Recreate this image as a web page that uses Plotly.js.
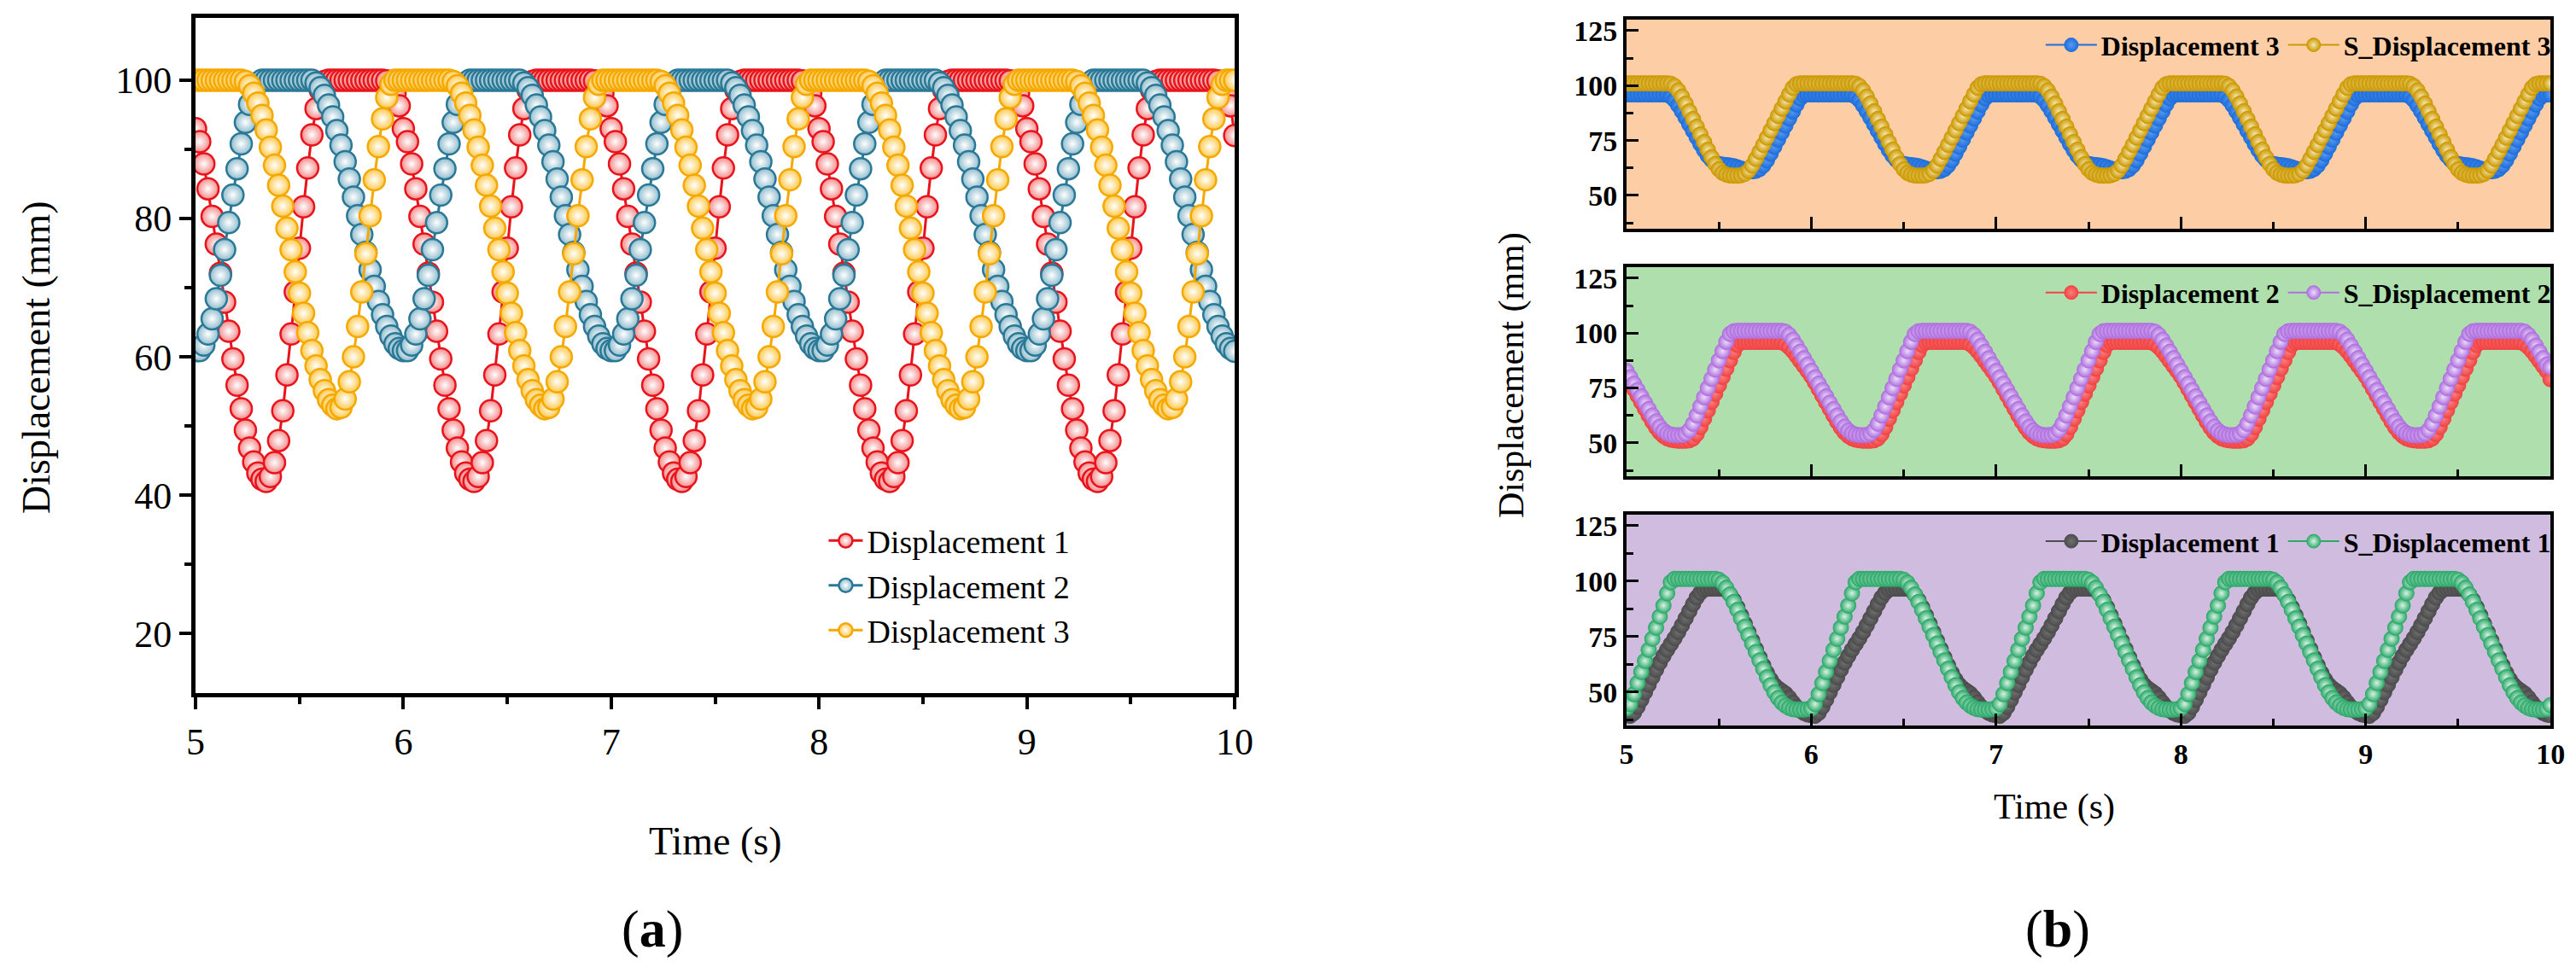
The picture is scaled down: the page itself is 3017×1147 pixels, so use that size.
<!DOCTYPE html>
<html>
<head>
<meta charset="utf-8">
<script src="https://cdn.plot.ly/plotly-3.0.1.min.js"></script>
<style>html,body{margin:0;padding:0;background:#fff}#chart{width:3017px;height:1147px}</style>
</head>
<body>
<div id="chart"></div>
<script>
// sampling grid, 5 s .. 10 s every 0.02 s
const time = [];
for (let i = 0; i <= 250; i++) time.push(+(5 + i * 0.02).toFixed(2));

// panel (a) values
const disp1 = [
93.0,91.1,87.9,84.3,80.3,76.3,72.1,67.9,63.7,59.7,55.9,52.5,49.4,46.8,44.8,43.2,42.3,42.0,42.7,44.7,47.9,52.2,57.4,63.3,69.4,75.7,81.7,87.3,92.1,95.9,98.6,99.8,100,100,100,100,100,100,100,100,100,100,100,100,100,100,99.9,99.3,98.1,96.3,
93.0,91.1,87.9,84.3,80.3,76.3,72.1,67.9,63.7,59.7,55.9,52.5,49.4,46.8,44.8,43.2,42.3,42.0,42.7,44.7,47.9,52.2,57.4,63.3,69.4,75.7,81.7,87.3,92.1,95.9,98.6,99.8,100,100,100,100,100,100,100,100,100,100,100,100,100,100,99.9,99.3,98.1,96.3,
93.0,91.1,87.9,84.3,80.3,76.3,72.1,67.9,63.7,59.7,55.9,52.5,49.4,46.8,44.8,43.2,42.3,42.0,42.7,44.7,47.9,52.2,57.4,63.3,69.4,75.7,81.7,87.3,92.1,95.9,98.6,99.8,100,100,100,100,100,100,100,100,100,100,100,100,100,100,99.9,99.3,98.1,96.3,
93.0,91.1,87.9,84.3,80.3,76.3,72.1,67.9,63.7,59.7,55.9,52.5,49.4,46.8,44.8,43.2,42.3,42.0,42.7,44.7,47.9,52.2,57.4,63.3,69.4,75.7,81.7,87.3,92.1,95.9,98.6,99.8,100,100,100,100,100,100,100,100,100,100,100,100,100,100,99.9,99.3,98.1,96.3,
93.0,91.1,87.9,84.3,80.3,76.3,72.1,67.9,63.7,59.7,55.9,52.5,49.4,46.8,44.8,43.2,42.3,42.0,42.7,44.7,47.9,52.2,57.4,63.3,69.4,75.7,81.7,87.3,92.1,95.9,98.6,99.8,100,100,100,100,100,100,100,100,100,100,100,100,100,100,99.9,99.3,98.1,96.3,
92.0];
const disp2 = [
60.9,60.9,61.7,63.3,65.5,68.4,71.8,75.5,79.4,83.4,87.2,90.8,93.9,96.5,98.4,99.6,100,100,100,100,100,100,100,100,100,100,100,100,100.0,99.6,98.9,97.8,96.4,94.7,92.7,90.6,88.2,85.7,83.1,80.4,77.7,75.1,72.6,70.2,68.0,66.1,64.4,63.0,61.9,61.2,
60.9,60.9,61.7,63.3,65.5,68.4,71.8,75.5,79.4,83.4,87.2,90.8,93.9,96.5,98.4,99.6,100,100,100,100,100,100,100,100,100,100,100,100,100.0,99.6,98.9,97.8,96.4,94.7,92.7,90.6,88.2,85.7,83.1,80.4,77.7,75.1,72.6,70.2,68.0,66.1,64.4,63.0,61.9,61.2,
60.9,60.9,61.7,63.3,65.5,68.4,71.8,75.5,79.4,83.4,87.2,90.8,93.9,96.5,98.4,99.6,100,100,100,100,100,100,100,100,100,100,100,100,100.0,99.6,98.9,97.8,96.4,94.7,92.7,90.6,88.2,85.7,83.1,80.4,77.7,75.1,72.6,70.2,68.0,66.1,64.4,63.0,61.9,61.2,
60.9,60.9,61.7,63.3,65.5,68.4,71.8,75.5,79.4,83.4,87.2,90.8,93.9,96.5,98.4,99.6,100,100,100,100,100,100,100,100,100,100,100,100,100.0,99.6,98.9,97.8,96.4,94.7,92.7,90.6,88.2,85.7,83.1,80.4,77.7,75.1,72.6,70.2,68.0,66.1,64.4,63.0,61.9,61.2,
60.9,60.9,61.7,63.3,65.5,68.4,71.8,75.5,79.4,83.4,87.2,90.8,93.9,96.5,98.4,99.6,100,100,100,100,100,100,100,100,100,100,100,100,100.0,99.6,98.9,97.8,96.4,94.7,92.7,90.6,88.2,85.7,83.1,80.4,77.7,75.1,72.6,70.2,68.0,66.1,64.4,63.0,61.9,61.2,
60.8];
const disp3 = [
100,100,100,100,100,100,100,100,100,100,100,100,99.8,99.2,98.1,96.7,94.9,92.8,90.3,87.7,84.8,81.8,78.6,75.5,72.3,69.2,66.3,63.5,60.9,58.7,56.7,55.1,53.8,53.0,52.5,52.7,53.9,56.4,60.0,64.4,69.4,74.9,80.4,85.6,90.4,94.4,97.5,99.4,100,100,
100,100,100,100,100,100,100,100,100,100,100,100,99.8,99.2,98.1,96.7,94.9,92.8,90.3,87.7,84.8,81.8,78.6,75.5,72.3,69.2,66.3,63.5,60.9,58.7,56.7,55.1,53.8,53.0,52.5,52.7,53.9,56.4,60.0,64.4,69.4,74.9,80.4,85.6,90.4,94.4,97.5,99.4,100,100,
100,100,100,100,100,100,100,100,100,100,100,100,99.8,99.2,98.1,96.7,94.9,92.8,90.3,87.7,84.8,81.8,78.6,75.5,72.3,69.2,66.3,63.5,60.9,58.7,56.7,55.1,53.8,53.0,52.5,52.7,53.9,56.4,60.0,64.4,69.4,74.9,80.4,85.6,90.4,94.4,97.5,99.4,100,100,
100,100,100,100,100,100,100,100,100,100,100,100,99.8,99.2,98.1,96.7,94.9,92.8,90.3,87.7,84.8,81.8,78.6,75.5,72.3,69.2,66.3,63.5,60.9,58.7,56.7,55.1,53.8,53.0,52.5,52.7,53.9,56.4,60.0,64.4,69.4,74.9,80.4,85.6,90.4,94.4,97.5,99.4,100,100,
100,100,100,100,100,100,100,100,100,100,100,100,99.8,99.2,98.1,96.7,94.9,92.8,90.3,87.7,84.8,81.8,78.6,75.5,72.3,69.2,66.3,63.5,60.9,58.7,56.7,55.1,53.8,53.0,52.5,52.7,53.9,56.4,60.0,64.4,69.4,74.9,80.4,85.6,90.4,94.4,97.5,99.4,100,100,
100];

// panel (b) values
const bDisp3 = [
96,96,96,96,96,96,96,96,96,96,96,95.8,95,93.4,91,88.3,85.4,82.4,79.4,76.4,73.4,70.6,68.1,66.2,65.0,64.3,64.0,63.8,63.6,63.3,62.8,62.2,61.6,61.2,61.0,61.2,62.0,63.6,66.0,69.0,72.2,75.4,78.6,81.8,85.0,88.2,91.4,94.2,95.6,96,
96,96,96,96,96,96,96,96,96,96,96,95.8,95,93.4,91,88.3,85.4,82.4,79.4,76.4,73.4,70.6,68.1,66.2,65.0,64.3,64.0,63.8,63.6,63.3,62.8,62.2,61.6,61.2,61.0,61.2,62.0,63.6,66.0,69.0,72.2,75.4,78.6,81.8,85.0,88.2,91.4,94.2,95.6,96,
96,96,96,96,96,96,96,96,96,96,96,95.8,95,93.4,91,88.3,85.4,82.4,79.4,76.4,73.4,70.6,68.1,66.2,65.0,64.3,64.0,63.8,63.6,63.3,62.8,62.2,61.6,61.2,61.0,61.2,62.0,63.6,66.0,69.0,72.2,75.4,78.6,81.8,85.0,88.2,91.4,94.2,95.6,96,
96,96,96,96,96,96,96,96,96,96,96,95.8,95,93.4,91,88.3,85.4,82.4,79.4,76.4,73.4,70.6,68.1,66.2,65.0,64.3,64.0,63.8,63.6,63.3,62.8,62.2,61.6,61.2,61.0,61.2,62.0,63.6,66.0,69.0,72.2,75.4,78.6,81.8,85.0,88.2,91.4,94.2,95.6,96,
96,96,96,96,96,96,96,96,96,96,96,95.8,95,93.4,91,88.3,85.4,82.4,79.4,76.4,73.4,70.6,68.1,66.2,65.0,64.3,64.0,63.8,63.6,63.3,62.8,62.2,61.6,61.2,61.0,61.2,62.0,63.6,66.0,69.0,72.2,75.4,78.6,81.8,85.0,88.2,91.4,94.2,95.6,96,
96];
const sDisp3 = [
101,101,101,101,101,101,101,101,101,101,101,101,100.8,99.8,97.8,95.0,91.8,88.3,84.8,81.3,77.8,74.3,70.8,67.4,64.3,61.9,60.3,59.5,59.1,59,59,59.2,59.8,61.2,63.6,66.6,69.8,73.0,76.3,79.6,82.9,86.2,89.5,92.8,96.0,99.0,100.6,101,101,101,
101,101,101,101,101,101,101,101,101,101,101,101,100.8,99.8,97.8,95.0,91.8,88.3,84.8,81.3,77.8,74.3,70.8,67.4,64.3,61.9,60.3,59.5,59.1,59,59,59.2,59.8,61.2,63.6,66.6,69.8,73.0,76.3,79.6,82.9,86.2,89.5,92.8,96.0,99.0,100.6,101,101,101,
101,101,101,101,101,101,101,101,101,101,101,101,100.8,99.8,97.8,95.0,91.8,88.3,84.8,81.3,77.8,74.3,70.8,67.4,64.3,61.9,60.3,59.5,59.1,59,59,59.2,59.8,61.2,63.6,66.6,69.8,73.0,76.3,79.6,82.9,86.2,89.5,92.8,96.0,99.0,100.6,101,101,101,
101,101,101,101,101,101,101,101,101,101,101,101,100.8,99.8,97.8,95.0,91.8,88.3,84.8,81.3,77.8,74.3,70.8,67.4,64.3,61.9,60.3,59.5,59.1,59,59,59.2,59.8,61.2,63.6,66.6,69.8,73.0,76.3,79.6,82.9,86.2,89.5,92.8,96.0,99.0,100.6,101,101,101,
101,101,101,101,101,101,101,101,101,101,101,101,100.8,99.8,97.8,95.0,91.8,88.3,84.8,81.3,77.8,74.3,70.8,67.4,64.3,61.9,60.3,59.5,59.1,59,59,59.2,59.8,61.2,63.6,66.6,69.8,73.0,76.3,79.6,82.9,86.2,89.5,92.8,96.0,99.0,100.6,101,101,101,
101];
const bDisp2 = [
80.3,77.5,74.5,71.5,68.5,65.5,62.5,59.6,57.0,54.8,53.2,52.1,51.5,51.2,51,51,51,51.2,52.0,54.0,57.2,61.0,64.8,68.6,72.4,76.2,80.0,83.8,87.6,91.4,94.6,95.8,96,96,96,96,96,96,96,96,96,96,95.8,95.0,93.6,91.8,89.6,87.3,85.0,82.7,
80.3,77.5,74.5,71.5,68.5,65.5,62.5,59.6,57.0,54.8,53.2,52.1,51.5,51.2,51,51,51,51.2,52.0,54.0,57.2,61.0,64.8,68.6,72.4,76.2,80.0,83.8,87.6,91.4,94.6,95.8,96,96,96,96,96,96,96,96,96,96,95.8,95.0,93.6,91.8,89.6,87.3,85.0,82.7,
80.3,77.5,74.5,71.5,68.5,65.5,62.5,59.6,57.0,54.8,53.2,52.1,51.5,51.2,51,51,51,51.2,52.0,54.0,57.2,61.0,64.8,68.6,72.4,76.2,80.0,83.8,87.6,91.4,94.6,95.8,96,96,96,96,96,96,96,96,96,96,95.8,95.0,93.6,91.8,89.6,87.3,85.0,82.7,
80.3,77.5,74.5,71.5,68.5,65.5,62.5,59.6,57.0,54.8,53.2,52.1,51.5,51.2,51,51,51,51.2,52.0,54.0,57.2,61.0,64.8,68.6,72.4,76.2,80.0,83.8,87.6,91.4,94.6,95.8,96,96,96,96,96,96,96,96,96,96,95.8,95.0,93.6,91.8,89.6,87.3,85.0,82.7,
80.3,77.5,74.5,71.5,68.5,65.5,62.5,59.6,57.0,54.8,53.2,52.1,51.5,51.2,51,51,51,51.2,52.0,54.0,57.2,61.0,64.8,68.6,72.4,76.2,80.0,83.8,87.6,91.4,94.6,95.8,96,96,96,96,96,96,96,96,96,96,95.8,95.0,93.6,91.8,89.6,87.3,85.0,82.7,
79.0];
const sDisp2 = [
82.8,79.9,77.0,74.1,71.2,68.3,65.4,62.5,59.8,57.4,55.6,54.4,53.8,53.5,53.5,53.6,54.2,55.8,58.7,62.5,66.6,70.8,75.0,79.2,83.4,87.6,91.8,96.0,99.6,100.8,101,101,101,101,101,101,101,101,101,101,101,101,101,100.6,99.2,97.0,94.3,91.5,88.6,85.7,
82.8,79.9,77.0,74.1,71.2,68.3,65.4,62.5,59.8,57.4,55.6,54.4,53.8,53.5,53.5,53.6,54.2,55.8,58.7,62.5,66.6,70.8,75.0,79.2,83.4,87.6,91.8,96.0,99.6,100.8,101,101,101,101,101,101,101,101,101,101,101,101,101,100.6,99.2,97.0,94.3,91.5,88.6,85.7,
82.8,79.9,77.0,74.1,71.2,68.3,65.4,62.5,59.8,57.4,55.6,54.4,53.8,53.5,53.5,53.6,54.2,55.8,58.7,62.5,66.6,70.8,75.0,79.2,83.4,87.6,91.8,96.0,99.6,100.8,101,101,101,101,101,101,101,101,101,101,101,101,101,100.6,99.2,97.0,94.3,91.5,88.6,85.7,
82.8,79.9,77.0,74.1,71.2,68.3,65.4,62.5,59.8,57.4,55.6,54.4,53.8,53.5,53.5,53.6,54.2,55.8,58.7,62.5,66.6,70.8,75.0,79.2,83.4,87.6,91.8,96.0,99.6,100.8,101,101,101,101,101,101,101,101,101,101,101,101,101,100.6,99.2,97.0,94.3,91.5,88.6,85.7,
82.8,79.9,77.0,74.1,71.2,68.3,65.4,62.5,59.8,57.4,55.6,54.4,53.8,53.5,53.5,53.6,54.2,55.8,58.7,62.5,66.6,70.8,75.0,79.2,83.4,87.6,91.8,96.0,99.6,100.8,101,101,101,101,101,101,101,101,101,101,101,101,101,100.6,99.2,97.0,94.3,91.5,88.6,85.7,
84.5];
const bDisp1 = [
39.5,39.2,40.5,43.2,46.4,49.8,53.2,56.6,60.0,63.2,66.2,69.0,71.6,74.2,77.0,80.0,83.2,86.4,89.6,92.6,94.8,96.2,96.6,96.6,96.6,96.6,96.6,95.8,94,91.4,88.2,84.6,80.8,77,73.2,69.4,65.6,62,58.6,55.6,53.2,51.6,50.4,49.2,47.4,45.2,43.2,41.6,40.5,39.8,
39.5,39.2,40.5,43.2,46.4,49.8,53.2,56.6,60.0,63.2,66.2,69.0,71.6,74.2,77.0,80.0,83.2,86.4,89.6,92.6,94.8,96.2,96.6,96.6,96.6,96.6,96.6,95.8,94,91.4,88.2,84.6,80.8,77,73.2,69.4,65.6,62,58.6,55.6,53.2,51.6,50.4,49.2,47.4,45.2,43.2,41.6,40.5,39.8,
39.5,39.2,40.5,43.2,46.4,49.8,53.2,56.6,60.0,63.2,66.2,69.0,71.6,74.2,77.0,80.0,83.2,86.4,89.6,92.6,94.8,96.2,96.6,96.6,96.6,96.6,96.6,95.8,94,91.4,88.2,84.6,80.8,77,73.2,69.4,65.6,62,58.6,55.6,53.2,51.6,50.4,49.2,47.4,45.2,43.2,41.6,40.5,39.8,
39.5,39.2,40.5,43.2,46.4,49.8,53.2,56.6,60.0,63.2,66.2,69.0,71.6,74.2,77.0,80.0,83.2,86.4,89.6,92.6,94.8,96.2,96.6,96.6,96.6,96.6,96.6,95.8,94,91.4,88.2,84.6,80.8,77,73.2,69.4,65.6,62,58.6,55.6,53.2,51.6,50.4,49.2,47.4,45.2,43.2,41.6,40.5,39.8,
39.5,39.2,40.5,43.2,46.4,49.8,53.2,56.6,60.0,63.2,66.2,69.0,71.6,74.2,77.0,80.0,83.2,86.4,89.6,92.6,94.8,96.2,96.6,96.6,96.6,96.6,96.6,95.8,94,91.4,88.2,84.6,80.8,77,73.2,69.4,65.6,62,58.6,55.6,53.2,51.6,50.4,49.2,47.4,45.2,43.2,41.6,40.5,39.8,
39.5];
const sDisp1 = [
42.5,44.5,49,54,59,64,69,74,79,84,89,94.5,99.5,101,101,101,101,101,101,101,101,101,101,101,101,100.6,99.3,97,94,90.6,87,83.2,79.4,75.6,71.8,68,64.2,60.4,56.6,53,49.8,47.2,45.2,43.8,42.8,42.2,42,42,42,42.2,
42.5,44.5,49,54,59,64,69,74,79,84,89,94.5,99.5,101,101,101,101,101,101,101,101,101,101,101,101,100.6,99.3,97,94,90.6,87,83.2,79.4,75.6,71.8,68,64.2,60.4,56.6,53,49.8,47.2,45.2,43.8,42.8,42.2,42,42,42,42.2,
42.5,44.5,49,54,59,64,69,74,79,84,89,94.5,99.5,101,101,101,101,101,101,101,101,101,101,101,101,100.6,99.3,97,94,90.6,87,83.2,79.4,75.6,71.8,68,64.2,60.4,56.6,53,49.8,47.2,45.2,43.8,42.8,42.2,42,42,42,42.2,
42.5,44.5,49,54,59,64,69,74,79,84,89,94.5,99.5,101,101,101,101,101,101,101,101,101,101,101,101,100.6,99.3,97,94,90.6,87,83.2,79.4,75.6,71.8,68,64.2,60.4,56.6,53,49.8,47.2,45.2,43.8,42.8,42.2,42,42,42,42.2,
42.5,44.5,49,54,59,64,69,74,79,84,89,94.5,99.5,101,101,101,101,101,101,101,101,101,101,101,101,100.6,99.3,97,94,90.6,87,83.2,79.4,75.6,71.8,68,64.2,60.4,56.6,53,49.8,47.2,45.2,43.8,42.8,42.2,42,42,42,42.2,
44.0];

const serif = "Liberation Serif, Times New Roman, serif";

function ballA(name, y, fill, edge) {
  return {
    type: "scatter", mode: "lines+markers", name, x: time, y,
    xaxis: "x", yaxis: "y", legend: "legend",
    line: { color: edge, width: 3 },
    marker: { size: 25, color: fill, gradient: { type: "radial", color: "#ffffff" },
              line: { color: edge, width: 2.5 } },
  };
}

function ballB(name, y, color, glow, ax, leg) {
  return {
    type: "scatter", mode: "lines+markers", name, x: time, y,
    xaxis: "x" + ax, yaxis: "y" + ax, legend: leg,
    line: { color, width: 2 },
    marker: { size: 18, color, gradient: { type: "radial", color: glow },
              line: { color, width: 1 } },
  };
}

const traces = [
  ballA("Displacement 1", disp1, "#f58a8a", "#e8141c"),
  ballA("Displacement 2", disp2, "#8fbccd", "#2a7896"),
  ballA("Displacement 3", disp3, "#ffc94d", "#f5a800"),
  ballB("Displacement 3", bDisp3, "#1f6fdc", "#5a9af0", 2, "legend2"),
  ballB("S_Displacement 3", sDisp3, "#cc9900", "#f5e6b0", 2, "legend2"),
  ballB("Displacement 2", bDisp2, "#f24444", "#f88080", 3, "legend3"),
  ballB("S_Displacement 2", sDisp2, "#b070e0", "#ecdcf8", 3, "legend3"),
  ballB("Displacement 1", bDisp1, "#4d4d4d", "#707070", 4, "legend4"),
  ballB("S_Displacement 1", sDisp1, "#2daa6a", "#d8f2e4", 4, "legend4"),
];

const axA = {
  showline: true, linewidth: 5, linecolor: "#000", mirror: true,
  showgrid: false, zeroline: false, ticks: "outside", ticklen: 14, tickwidth: 4,
  tickcolor: "#000", tickfont: { family: serif, size: 44, color: "#000" },
};
const axB = {
  showline: true, linewidth: 4, linecolor: "#000", mirror: true,
  showgrid: false, zeroline: false, ticks: "inside", ticklen: 14, tickwidth: 3,
  tickcolor: "#000", tickfont: { family: serif, size: 34, color: "#000", weight: "bold" },
};
const bx = (labels) => Object.assign({}, axB, {
  domain: [0.6314, 0.9901], range: [5, 10], tickvals: [5, 6, 7, 8, 9, 10],
  showticklabels: labels, minor: { dtick: 0.5, tick0: 5, ticklen: 8, tickwidth: 3, ticks: "inside" },
});
const by = (dom, anchor) => Object.assign({}, axB, {
  domain: dom, range: [34.8, 130], tickvals: [50, 75, 100, 125], anchor,
  minor: { dtick: 12.5, tick0: 0, ticklen: 8, tickwidth: 3, ticks: "inside" },
});

const legB = (y) => ({
  orientation: "h", x: 0.992, xanchor: "right", y, yanchor: "top",
  bgcolor: "rgba(0,0,0,0)", font: { family: serif, size: 32, color: "#000", weight: "bold" },
  itemwidth: 60,
});

const note = (text, px, py, size, angle) => ({
  text, xref: "paper", yref: "paper", x: px / 3017, y: 1 - py / 1147,
  xanchor: "center", yanchor: "middle", textangle: angle || 0,
  showarrow: false, font: { family: serif, size, color: "#000" },
});

const layout = {
  width: 3017, height: 1147, margin: { l: 0, r: 0, t: 0, b: 0 },
  paper_bgcolor: "#fff", plot_bgcolor: "rgba(0,0,0,0)",
  xaxis: Object.assign({}, axA, { domain: [0.0759, 0.4793], range: [5, 10], tickvals: [5, 6, 7, 8, 9, 10],
    anchor: "y", minor: { dtick: 0.5, tick0: 5, ticklen: 8, tickwidth: 4, ticks: "outside" } }),
  yaxis: Object.assign({}, axA, { domain: [0.2921, 0.9817], range: [11.4, 109], tickvals: [20, 40, 60, 80, 100],
    anchor: "x", minor: { dtick: 10, tick0: 0, ticklen: 8, tickwidth: 4, ticks: "outside" } }),
  xaxis2: Object.assign(bx(false), { anchor: "y2" }),
  yaxis2: by([0.7663, 0.9799], "x2"),
  xaxis3: Object.assign(bx(false), { anchor: "y3" }),
  yaxis3: by([0.5135, 0.7271], "x3"),
  xaxis4: Object.assign(bx(true), { anchor: "y4" }),
  yaxis4: by([0.2589, 0.4743], "x4"),
  legend: { x: 0.32, xanchor: "left", y: 0.475, yanchor: "top", bgcolor: "rgba(0,0,0,0)",
    font: { family: serif, size: 38, color: "#000" }, tracegroupgap: 0, itemwidth: 40 },
  legend2: legB(0.978),
  legend3: legB(0.725),
  legend4: legB(0.471),
  shapes: [
    { type: "rect", xref: "x2 domain", yref: "y2 domain", x0: 0, x1: 1, y0: 0, y1: 1, fillcolor: "#fdcda5", line: { width: 0 }, layer: "below" },
    { type: "rect", xref: "x3 domain", yref: "y3 domain", x0: 0, x1: 1, y0: 0, y1: 1, fillcolor: "#aedfad", line: { width: 0 }, layer: "below" },
    { type: "rect", xref: "x4 domain", yref: "y4 domain", x0: 0, x1: 1, y0: 0, y1: 1, fillcolor: "#d0bcdf", line: { width: 0 }, layer: "below" },
  ],
  annotations: [
    note("Displacement (mm)", 43, 419, 46, -90),
    note("Time (s)", 838, 985, 46),
    note("(<b>a</b>)", 764, 1088, 62),
    note("Displacement (mm)", 1771, 440, 42, -90),
    note("Time (s)", 2406, 945, 42),
    note("(<b>b</b>)", 2410, 1088, 62),
  ],
};

Plotly.newPlot("chart", traces, layout, { displayModeBar: false, staticPlot: true });
</script>
</body>
</html>
